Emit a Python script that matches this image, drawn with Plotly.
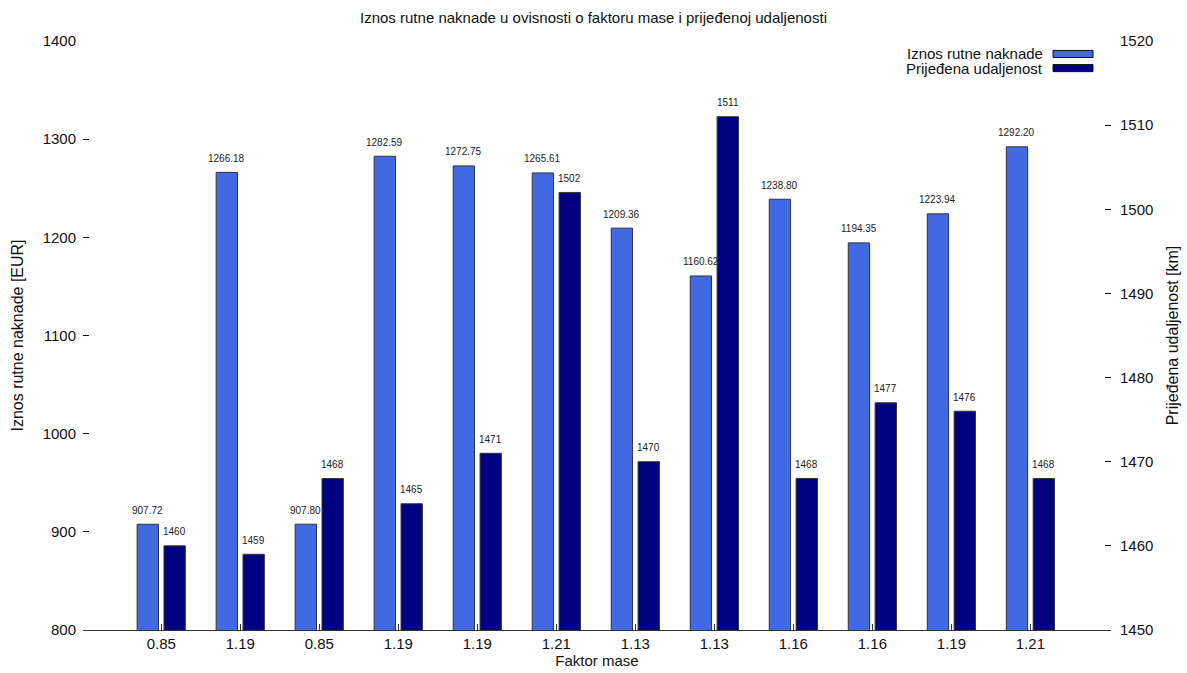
import plotly.graph_objects as go

# Data
faktor_mase = ['0.85', '1.19', '0.85', '1.19', '1.19', '1.21', '1.13', '1.13', '1.16', '1.16', '1.19', '1.21']
naknada = [907.72, 1266.18, 907.80, 1282.59, 1272.75, 1265.61, 1209.36, 1160.62, 1238.80, 1194.35, 1223.94, 1292.20]
udaljenost = [1460, 1459, 1468, 1465, 1471, 1502, 1470, 1511, 1468, 1477, 1476, 1468]

idx = list(range(len(faktor_mase)))
w = 0.27
shift = 0.17

font_family = 'Liberation Sans, Arial, sans-serif'

fig = go.Figure()

fig.add_trace(go.Bar(
    x=idx, y=naknada,
    width=w, offset=-shift - w / 2,
    marker=dict(color='#4169E1', line=dict(color='#333333', width=1)),
    name='Iznos rutne naknade', yaxis='y', showlegend=False,
))

fig.add_trace(go.Bar(
    x=idx, y=udaljenost,
    width=w, offset=shift - w / 2,
    marker=dict(color='#000080', line=dict(color='#333333', width=1)),
    name='Prijeđena udaljenost', yaxis='y2', showlegend=False,
))

annotations = []
for i, v in zip(idx, naknada):
    annotations.append(dict(x=i - shift, y=v, xref='x', yref='y', text='%.2f' % v,
                            showarrow=False, yanchor='middle', yshift=14,
                            font=dict(size=10, color='#222222')))
for i, v in zip(idx, udaljenost):
    annotations.append(dict(x=i + shift, y=v, xref='x', yref='y2', text='%d' % v,
                            showarrow=False, yanchor='middle', yshift=14,
                            font=dict(size=10, color='#222222')))

# legend (text on the left, swatch on the right)
legend_items = [('Iznos rutne naknade', '#4169E1', 0.978), ('Prijeđena udaljenost', '#000080', 0.954)]
shapes = []
for label, col, yy in legend_items:
    annotations.append(dict(x=0.9358, y=yy, xref='paper', yref='paper', text=label,
                            showarrow=False, xanchor='right', yanchor='middle',
                            font=dict(size=15, color='#111111')))
    shapes.append(dict(type='rect', xref='paper', yref='paper',
                       x0=0.9436, x1=0.9825, y0=yy - 0.006, y1=yy + 0.006,
                       fillcolor=col, line=dict(color='#111111', width=1)))

fig.update_layout(
    width=1187, height=673,
    margin=dict(l=83, r=76, t=41, b=43),
    paper_bgcolor='white', plot_bgcolor='white',
    font=dict(family=font_family, color='#111111'),
    barmode='overlay',
    title=dict(text='Iznos rutne naknade u ovisnosti o faktoru mase i prijeđenoj udaljenosti',
               x=0.5, xanchor='center', y=0.973, yanchor='middle',
               font=dict(size=15, color='#111111')),
    xaxis=dict(
        range=[-0.99, 12.02], tickmode='array', tickvals=idx, ticktext=faktor_mase,
        ticks='inside', ticklen=6, tickcolor='#333333',
        showline=True, linecolor='#333333', linewidth=1,
        showgrid=False, zeroline=False,
        tickfont=dict(size=15),
        title=dict(text='Faktor mase', font=dict(size=15), standoff=2),
        automargin=False,
    ),
    yaxis=dict(
        range=[800, 1400], dtick=100, ticks='inside', ticklen=6, tickcolor='#111111',
        showline=False, showgrid=False, zeroline=False,
        tickfont=dict(size=15), ticklabelstandoff=6,
        title=dict(text='Iznos rutne naknade [EUR]', font=dict(size=16), standoff=15),
        automargin=False,
    ),
    yaxis2=dict(
        range=[1450, 1520], dtick=10, overlaying='y', side='right',
        ticks='inside', ticklen=6, tickcolor='#111111',
        showline=False, showgrid=False, zeroline=False,
        tickfont=dict(size=15), ticklabelstandoff=8,
        title=dict(text='Prijeđena udaljenost [km]', font=dict(size=16), standoff=14),
        automargin=False,
    ),
    annotations=annotations,
    shapes=shapes,
)

fig.write_html('out.html', config={'displayModeBar': False},
               post_script="document.body.style.margin='0';")
